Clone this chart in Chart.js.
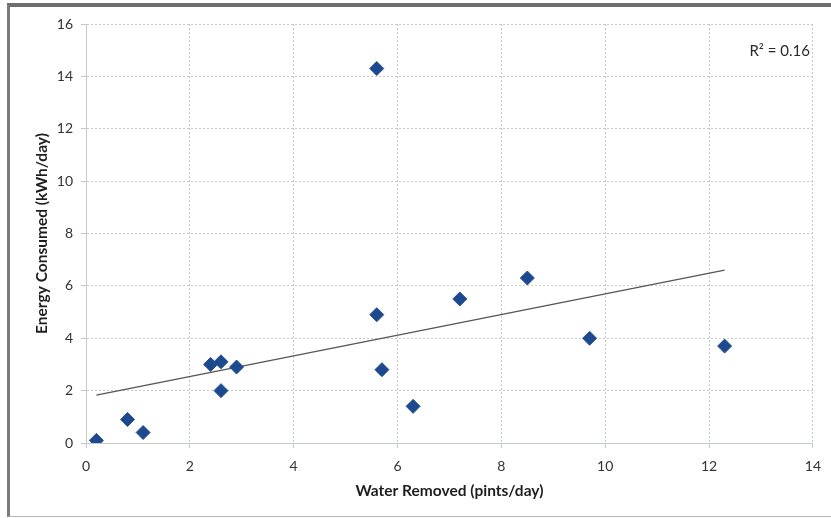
<!DOCTYPE html>
<html>
<head>
<meta charset="utf-8">
<script src="https://cdn.jsdelivr.net/npm/chart.js@4/dist/chart.umd.min.js"></script>
<style>
  body { margin: 0; background: #fff; }
  #wrap { position: relative; width: 831px; height: 518px; }
  #frame {
    position: absolute; left: 7px; top: 3px; right: 0; bottom: 1px;
    border-left: 3px solid #7a7a7a; border-top: 4px solid #6f6f6f;
    border-bottom: 1px solid #b5b5b5; pointer-events: none;
  }
</style>
</head>
<body>
<div id="wrap">
  <canvas id="chart" width="831" height="518"></canvas>
  <div id="frame"></div>
</div>
<script>
// data
const waterRemoved = [0.2, 0.8, 1.1, 2.4, 2.6, 2.6, 2.9, 5.6, 5.6, 5.7, 6.3, 7.2, 8.5, 9.7, 12.3];
const energyUsed   = [0.1, 0.9, 0.4, 3.0, 3.1, 2.0, 2.9, 14.3, 4.9, 2.8, 1.4, 5.5, 6.3, 4.0, 3.7];
const trendX = [0.2, 12.3];
const trendY = [1.83, 6.6];
const xTicks = [0, 2, 4, 6, 8, 10, 12, 14];
const yTicks = [0, 2, 4, 6, 8, 10, 12, 14, 16];
const rSquared = 'R\u00B2 = 0.16';

const fontFam = 'Lato, "Open Sans", sans-serif';
const gridCol = '#c3cac3';

const rLabel = {
  id: 'rLabel',
  afterDraw(chart) {
    const ctx = chart.ctx;
    ctx.save();
    ctx.font = '15px ' + fontFam;
    ctx.fillStyle = '#2a2a2a';
    ctx.textAlign = 'right';
    ctx.textBaseline = 'middle';
    ctx.fillText(rSquared, chart.chartArea.right - 3, 51);
    ctx.restore();
  }
};

new Chart(document.getElementById('chart'), {
  type: 'scatter',
  data: {
    datasets: [
      {
        label: 'Energy',
        data: waterRemoved.map((x, i) => ({ x: x, y: energyUsed[i] })),
        pointStyle: 'rectRot',
        pointRadius: 7,
        backgroundColor: '#1d4a8e',
        borderColor: '#234f92',
        borderWidth: 1
      },
      {
        type: 'line',
        label: 'Trend',
        data: trendX.map((x, i) => ({ x: x, y: trendY[i] })),
        borderColor: '#555',
        borderWidth: 1.3,
        pointRadius: 0,
        fill: false
      }
    ]
  },
  options: {
    responsive: false,
    animation: false,
    layout: { padding: { left: 10, right: 17, top: 24, bottom: 10 } },
    plugins: { legend: { display: false }, tooltip: { enabled: false } },
    scales: {
      x: {
        type: 'linear', min: 0, max: 14,
        afterBuildTicks(s) { s.ticks = xTicks.map(v => ({ value: v })); },
        afterFit(s) { s.height = 65; },
        grid: { color: gridCol, tickLength: 5, tickColor: gridCol },
        border: { color: gridCol, dash: [2, 2] },
        ticks: { color: '#333', padding: 10, font: { family: fontFam, size: 14 } },
        title: {
          display: true, text: 'Water Removed (pints/day)', color: '#1e1e1e',
          font: { family: fontFam, size: 15.5, weight: 'bold' },
          padding: { top: 0, bottom: 8 }
        }
      },
      y: {
        type: 'linear', min: 0, max: 16,
        afterBuildTicks(s) { s.ticks = yTicks.map(v => ({ value: v })); },
        afterFit(s) { s.width = 76; },
        grid: { color: gridCol, tickLength: 5, tickColor: gridCol },
        border: { color: gridCol, dash: [2, 2] },
        ticks: { color: '#333', padding: 8, font: { family: fontFam, size: 14 } },
        title: {
          display: true, text: 'Energy Consumed (kWh/day)', color: '#1e1e1e',
          font: { family: fontFam, size: 15.5, weight: 'bold' },
          padding: { top: 23, bottom: 0 }
        }
      }
    }
  },
  plugins: [rLabel]
});
</script>
</body>
</html>
